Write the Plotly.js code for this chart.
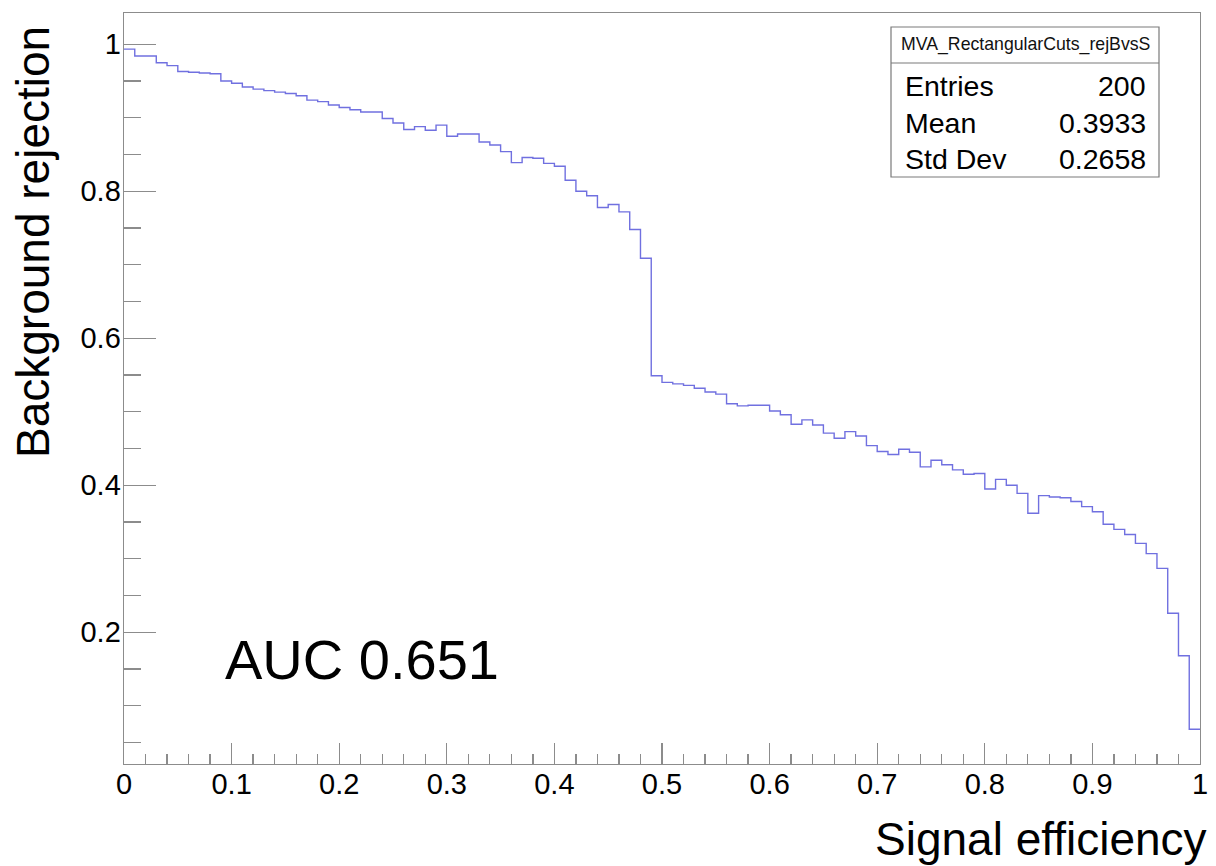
<!DOCTYPE html>
<html>
<head>
<meta charset="utf-8">
<script src="https://cdn.plot.ly/plotly-3.0.1.min.js"></script>
<style>html,body{margin:0;padding:0;background:#fff;}#chart{width:1216px;height:866px;}</style>
</head>
<body>
<div id="chart"></div>
<script>
// Histogram definition: MVA_RectangularCuts_rejBvsS (100 bins on [0,1])
const nBins = 100;
const xMin = 0;
const xMax = 1;

// Background rejection per signal-efficiency bin
const rejection = [
  0.9935, 0.984, 0.984, 0.975, 0.971, 0.963, 0.962, 0.961, 0.960, 0.950,
  0.947, 0.942, 0.939, 0.937, 0.935, 0.933, 0.930, 0.924, 0.922, 0.9175,
  0.914, 0.911, 0.908, 0.908, 0.899, 0.893, 0.884, 0.888, 0.883, 0.890,
  0.875, 0.878, 0.878, 0.867, 0.863, 0.854, 0.839, 0.846, 0.845, 0.838,
  0.834, 0.815, 0.800, 0.794, 0.778, 0.782, 0.772, 0.748, 0.709, 0.549,
  0.540, 0.538, 0.536, 0.532, 0.527, 0.524, 0.511, 0.508, 0.509, 0.509,
  0.501, 0.496, 0.483, 0.489, 0.482, 0.471, 0.464, 0.473, 0.467, 0.454,
  0.446, 0.442, 0.449, 0.445, 0.425, 0.434, 0.428, 0.421, 0.415, 0.416,
  0.395, 0.408, 0.400, 0.389, 0.362, 0.386, 0.384, 0.383, 0.378, 0.371,
  0.364, 0.347, 0.340, 0.333, 0.321, 0.307, 0.287, 0.226, 0.168, 0.068
];

// Texts
const histName = "MVA_RectangularCuts_rejBvsS";
const statLabels = ["Entries", "Mean", "Std Dev"];
const statValues = ["200", "0.3933", "0.2658"];
const xTitle = "Signal efficiency";
const yTitle = "Background rejection";
const aucText = "AUC 0.651";

// Build step outline from bin edges
const binWidth = (xMax - xMin) / nBins;
const xs = [], ys = [];
for (let i = 0; i < nBins; i++) {
  xs.push(xMin + i * binWidth);
  ys.push(rejection[i]);
}
xs.push(xMax);
ys.push(rejection[nBins - 1]);

const W = 1216, H = 866;
const M = {l: 124, r: 16, t: 13, b: 102, pad: 0};
const PW = W - M.l - M.r, PH = H - M.t - M.b;
const px = v => (v - M.l) / PW;
const py = v => (H - M.b - v) / PH;

const FONT = "Liberation Sans, Arial, Helvetica, sans-serif";
const AX = "#8c8c8c";

const trace = {
  type: "scatter",
  mode: "lines",
  x: xs,
  y: ys,
  line: {shape: "hv", color: "rgb(112,112,224)", width: 1.4},
  hoverinfo: "x+y",
  showlegend: false
};

const box = {x0: 891, x1: 1159, y0: 27, y1: 177, sep: 63};

const shapes = [
  {type: "rect", xref: "paper", yref: "paper",
   x0: px(box.x0), x1: px(box.x1), y0: py(box.y1), y1: py(box.y0),
   line: {color: "#7a7a7a", width: 1.2}, fillcolor: "#ffffff"},
  {type: "line", xref: "paper", yref: "paper",
   x0: px(box.x0), x1: px(box.x1), y0: py(box.sep), y1: py(box.sep),
   line: {color: "#7a7a7a", width: 1.2}}
];

const rowY = [85.5, 122.5, 159];
const annotations = [
  {xref: "paper", yref: "paper", x: px((box.x0 + box.x1) / 2), y: py(45),
   xanchor: "center", yanchor: "middle", showarrow: false,
   text: histName, font: {family: FONT, size: 17.7, color: "#111"}},
  {xref: "paper", yref: "paper", x: px(1209), y: py(839),
   xanchor: "right", yanchor: "middle", showarrow: false,
   text: xTitle, font: {family: FONT, size: 46, color: "#000"}},
  {xref: "paper", yref: "paper", x: px(33), y: py(24),
   xanchor: "center", yanchor: "top", showarrow: false, textangle: -90,
   text: yTitle, font: {family: FONT, size: 46, color: "#000"}},
  {xref: "paper", yref: "paper", x: px(223), y: py(659),
   xanchor: "left", yanchor: "middle", showarrow: false,
   text: aucText, font: {family: FONT, size: 56, color: "#000"}}
];
statLabels.forEach((lab, i) => {
  annotations.push({xref: "paper", yref: "paper", x: px(903), y: py(rowY[i]),
    xanchor: "left", yanchor: "middle", showarrow: false,
    text: lab, font: {family: FONT, size: 28.5, color: "#000"}});
  annotations.push({xref: "paper", yref: "paper", x: px(1148), y: py(rowY[i]),
    xanchor: "right", yanchor: "middle", showarrow: false,
    text: statValues[i], font: {family: FONT, size: 28.5, color: "#000"}});
});

const layout = {
  width: W, height: H,
  margin: M,
  paper_bgcolor: "#ffffff",
  plot_bgcolor: "#ffffff",
  font: {family: FONT, size: 29, color: "#000"},
  showlegend: false,
  xaxis: {
    range: [xMin, xMax],
    tickmode: "linear", tick0: 0, dtick: 0.1,
    ticks: "inside", ticklen: 21, tickwidth: 1.3, tickcolor: AX,
    minor: {dtick: 0.02, tick0: 0, ticks: "inside", ticklen: 10, tickwidth: 1.3, tickcolor: AX, showgrid: false},
    showline: true, linecolor: AX, linewidth: 1.4, mirror: true,
    showgrid: false, zeroline: false,
    tickfont: {family: FONT, size: 29, color: "#000"},
    ticklabelstandoff: -6,
    fixedrange: true
  },
  yaxis: {
    range: [0.0208, 1.0426],
    tickmode: "linear", tick0: 0, dtick: 0.2,
    ticks: "inside", ticklen: 32, tickwidth: 1.3, tickcolor: AX,
    minor: {dtick: 0.05, tick0: 0, ticks: "inside", ticklen: 17, tickwidth: 1.3, tickcolor: AX, showgrid: false},
    showline: true, linecolor: AX, linewidth: 1.4, mirror: true,
    showgrid: false, zeroline: false,
    tickfont: {family: FONT, size: 29, color: "#000"},
    ticklabelstandoff: -4,
    fixedrange: true
  },
  shapes: shapes,
  annotations: annotations
};

Plotly.newPlot("chart", [trace], layout, {displayModeBar: false, staticPlot: true});
</script>
</body>
</html>
